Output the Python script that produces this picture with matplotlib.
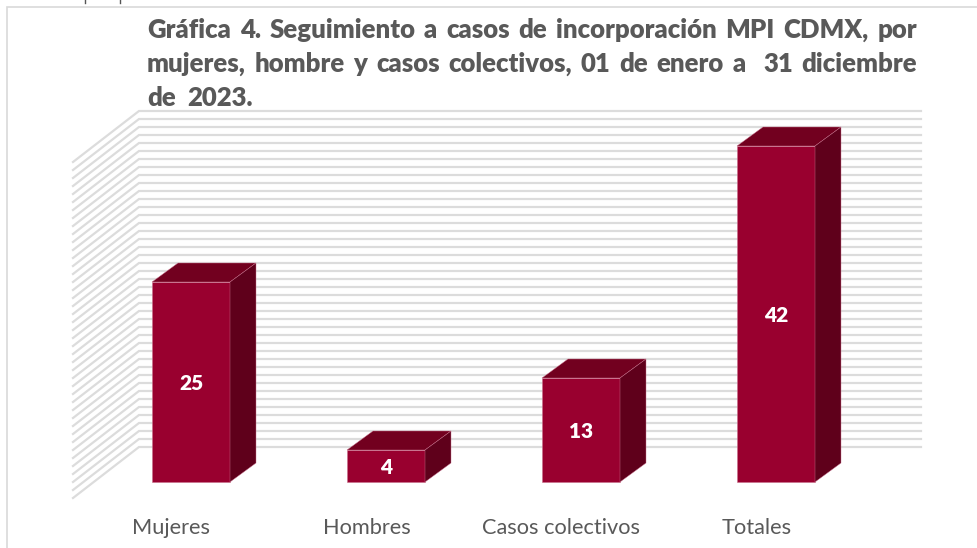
import matplotlib
matplotlib.use("Agg")
import matplotlib.pyplot as plt
from matplotlib.patches import Polygon

categories = ["Mujeres", "Hombres", "Casos colectivos", "Totales"]
values = [25, 4, 13, 42]
title_lines = [
    "Gráfica 4. Seguimiento a casos de incorporación MPI CDMX, por",
    "mujeres, hombre y casos colectivos, 01 de enero a  31 diciembre",
    "de  2023.",
]
wall_levels = list(range(0, 43))

W, H = 977, 548
PX_X = 195.0   # pixels per category
PX_Y = 8.0     # pixels per unit
X0, Y0 = 191.0, 482.0

plt.rcParams["font.family"] = ["Lato", "DejaVu Sans"]
fig = plt.figure(figsize=(W / 100, H / 100), dpi=100, facecolor="white")
ax = fig.add_axes([0, 0, 1, 1])
ax.set_xlim(-X0 / PX_X, (W - X0) / PX_X)
ax.set_ylim((Y0 - H) / PX_Y, Y0 / PX_Y)
ax.axis("off")

dx = lambda p: p / PX_X
dy = lambda p: p / PX_Y

# chart frame (left and top edges only are visible)
frame = "#d9d9d9"
ax.plot([dx(7 - X0), dx(7 - X0), dx(W - X0)], [dy(Y0 - H), dy(Y0 - 7), dy(Y0 - 7)],
        color=frame, lw=1.2, solid_joinstyle="miter")

# fragments of text cut off at top of the picture
for px in (85, 120):
    ax.plot([dx(px - X0)] * 2, [dy(Y0 - 3), dy(Y0 - 0)], color="#555555", lw=1.0)

# wall grid lines
wall_left = dx(139 - X0)
wall_right = dx(921 - X0)
side_left = dx(73 - X0)
back_off = dy(Y0 - 447)
side_off = dy(51)
for v in wall_levels:
    yb = back_off + v
    ax.plot([side_left, wall_left, wall_right], [yb - side_off, yb, yb],
            color="#dcdcdc", lw=1.6, solid_joinstyle="miter", zorder=1)

# 3-D columns
half = dx(39)
depth_x = dx(26)
depth_y = dy(19)
for i, v in enumerate(values):
    l, r = i - half, i + half
    edge = "#c9708c"
    ax.add_patch(Polygon([(l, 0), (r, 0), (r, v), (l, v)], closed=True,
                         facecolor="#99002f", edgecolor=edge, lw=0.4, zorder=3))
    ax.add_patch(Polygon([(l, v), (r, v), (r + depth_x, v + depth_y), (l + depth_x, v + depth_y)],
                         closed=True, facecolor="#72001f", edgecolor=edge, lw=0.3, zorder=3))
    ax.add_patch(Polygon([(r, 0), (r + depth_x, depth_y), (r + depth_x, v + depth_y), (r, v)],
                         closed=True, facecolor="#5f001b", edgecolor=edge, lw=0.3, zorder=3))
    ax.text(i, v / 2 - dy(2), str(v), color="white", fontsize=15, fontweight="heavy",
            ha="center", va="center", zorder=4)
    ax.text(i - dx(19.5), dy(Y0 - 528.5), categories[i], color="#595959", fontsize=15.7,
            ha="center", va="center", zorder=4)

# justified title, word by word
tx_left, tx_right = 147.0, 917.0
fig.canvas.draw()
rend = fig.canvas.get_renderer()
tkw = dict(color="#595959", fontsize=18.5, fontweight="heavy", ha="left", va="center", zorder=5)
for n, line in enumerate(title_lines):
    py = 29.5 + 34 * n
    words = line.split(" ")
    arts = [ax.text(0, dy(Y0 - py), w, **tkw) if w else None for w in words]
    widths = [a.get_window_extent(rend).width if a else 0.0 for a in arts]
    if n < 2:
        gap = (tx_right - tx_left - sum(widths)) / (len(words) - 1)
    else:
        gap = 6
    cur = tx_left
    for a, wd in zip(arts, widths):
        if a:
            a.set_x(dx(cur - X0))
        cur += wd + gap

fig.savefig("out.png", dpi=100, facecolor="white")
